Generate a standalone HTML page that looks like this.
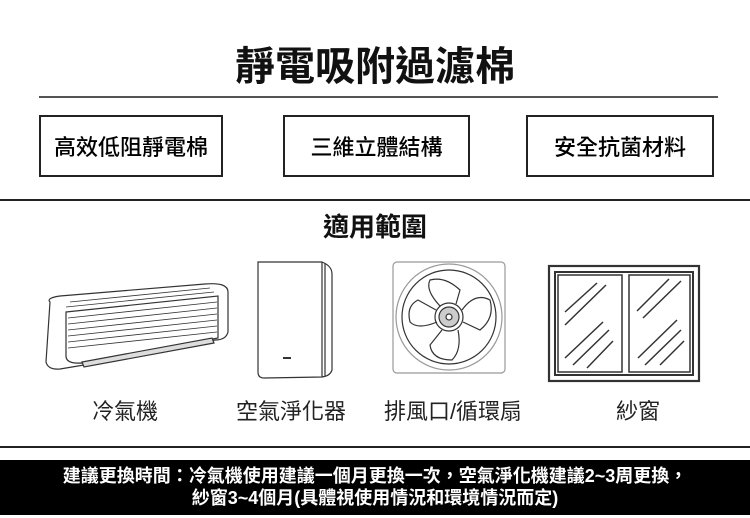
<!DOCTYPE html>
<html><head><meta charset="utf-8"><style>
body{margin:0;width:750px;height:518px;background:#fff;position:relative;overflow:hidden;font-family:"Liberation Sans","Noto Sans CJK TC",sans-serif;color:#111}
.a{position:absolute}
.box{position:absolute;top:115px;height:62px;border:2px solid #222;box-sizing:border-box;font-size:22px;display:flex;align-items:center;justify-content:center;color:#000;font-weight:500}
.lbl{position:absolute;top:398px;font-size:22px;line-height:28px;transform:translateX(-50%);white-space:nowrap;color:#222}
</style></head><body>
<div class="a" style="left:0;width:750px;top:42px;text-align:center;font-size:40px;font-weight:bold;line-height:50px">靜電吸附過濾棉</div>
<div class="a" style="left:39px;width:679px;top:96px;height:2px;background:#555"></div>
<div class="box" style="left:39px;width:184px">高效低阻靜電棉</div>
<div class="box" style="left:283px;width:187px">三維立體結構</div>
<div class="box" style="left:526px;width:188px">安全抗菌材料</div>
<div class="a" style="left:0;width:750px;top:199px;height:2px;background:#222"></div>
<div class="a" style="left:0;width:750px;top:210px;text-align:center;font-size:26px;font-weight:bold;line-height:34px">適用範圍</div>
<svg class="a" style="left:0;top:0" width="750" height="518" fill="none" stroke="#333" stroke-width="1.2">
<path d="M50 302 Q46 298 60 296 L205 284 Q228 282 228 292 L228 332 Q226 340 215 340 L90 364 L60 369 Q48 370 46 362 Z"/>
<path d="M66 312 L218 296 L218 338 L90 362 Q66 366 66 356 Z"/>
<g stroke-width="0.8">
<line x1="68" y1="318" x2="217" y2="302"/><line x1="68" y1="324" x2="217" y2="308"/><line x1="68" y1="330" x2="217" y2="314"/><line x1="68" y1="336" x2="217" y2="320"/><line x1="68" y1="342" x2="217" y2="326"/><line x1="68" y1="348" x2="217" y2="332"/>
<line x1="70" y1="302" x2="210" y2="288"/><line x1="66" y1="307" x2="214" y2="292"/>
</g>
<path d="M82 362 L212 338 L214 343 L84 367 Z" fill="#ddd"/>
<path d="M258 262 L322 262 Q332 266 332 274 L332 370 Q330 376 322 377 L264 378 Q258 378 258 372 Z"/>
<line x1="322" y1="262" x2="322" y2="377"/><line x1="325" y1="263" x2="325" y2="376"/>
<line x1="283" y1="358" x2="291" y2="358" stroke-width="2"/>
<rect x="393" y="262" width="112" height="111" rx="4" stroke="#999"/>
<circle cx="449" cy="317" r="53" stroke="#999"/>
<circle cx="449" cy="317" r="47"/>
<circle cx="449" cy="317" r="14"/><circle cx="449" cy="317" r="10" fill="#ccc"/><circle cx="449" cy="317" r="3" fill="#fff"/>
<path d="M440 306 Q425 290 430 280 Q445 276 460 290 L456 304"/>
<path d="M462 310 Q475 292 490 300 Q495 318 480 330 L463 322"/>
<path d="M458 330 Q462 350 452 360 Q432 360 430 345 L442 330"/>
<path d="M437 322 Q418 330 410 322 Q406 306 418 300 L436 310"/>
<rect x="549" y="266" width="150" height="115" stroke-width="2.2"/>
<rect x="555" y="272" width="138" height="103" stroke-width="2"/>
<rect x="558" y="275" width="64" height="97" stroke-width="1.5"/>
<rect x="629" y="275" width="61" height="97" stroke-width="1.5"/>
<g stroke-width="1.5">
<line x1="565" y1="312" x2="597" y2="283"/><line x1="565" y1="325" x2="606" y2="285"/>
<line x1="565" y1="358" x2="603" y2="322"/><line x1="573" y1="365" x2="609" y2="330"/><line x1="587" y1="368" x2="613" y2="341"/>
<line x1="637" y1="311" x2="669" y2="279"/><line x1="643" y1="318" x2="681" y2="281"/>
<line x1="638" y1="358" x2="677" y2="320"/><line x1="645" y1="365" x2="681" y2="330"/><line x1="660" y1="365" x2="684" y2="341"/>
</g>
</svg>
<div class="lbl" style="left:125px">冷氣機</div>
<div class="lbl" style="left:291px">空氣淨化器</div>
<div class="lbl" style="left:453px">排風口/循環扇</div>
<div class="lbl" style="left:638px">紗窗</div>
<div class="a" style="left:0;width:750px;top:446px;height:2px;background:#222"></div>
<div class="a" style="left:0;width:750px;top:460px;height:55px;background:#000;color:#fff;text-align:center;font-size:18px;font-weight:bold;line-height:22px;padding-top:5px;box-sizing:border-box;white-space:nowrap">建議更換時間：冷氣機使用建議一個月更換一次，空氣淨化機建議2~3周更換，<br>紗窗3~4個月(具體視使用情況和環境情況而定)</div>
</body></html>
